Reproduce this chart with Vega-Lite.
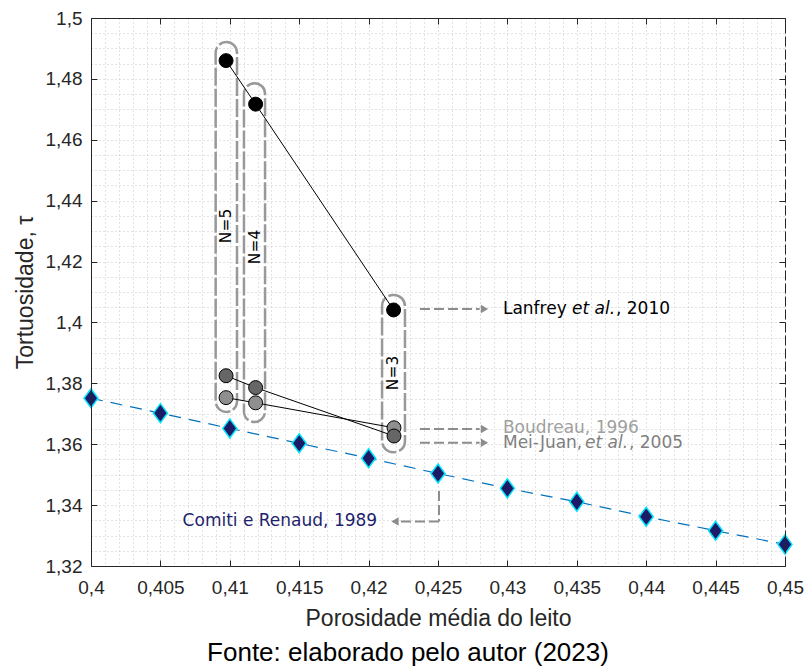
{
  "$schema": "https://vega.github.io/schema/vega-lite/v6.json",
  "width": 694,
  "height": 548,
  "autosize": {"type": "none"},
  "padding": {"left": 91, "top": 18, "right": 22, "bottom": 102},
  "background": "white",
  "config": {
    "view": {"stroke": null},
    "axis": {
      "labelFont": "Liberation Sans",
      "titleFont": "Liberation Sans",
      "labelColor": "#262626",
      "titleColor": "#262626",
      "domainColor": "#262626",
      "tickColor": "#262626",
      "titleFontWeight": "normal",
      "labelFlush": false
    }
  },
  "title": {
    "text": "Fonte: elaborado pelo autor (2023)",
    "orient": "bottom",
    "anchor": "middle",
    "font": "Liberation Sans",
    "fontSize": 26,
    "fontWeight": "normal",
    "color": "#000000",
    "offset": 10,
    "dx": -30
  },
  "datasets": {
    "comiti": [
      {"p": 0.400, "t": 1.3751},
      {"p": 0.405, "t": 1.3702},
      {"p": 0.410, "t": 1.3652},
      {"p": 0.415, "t": 1.3603},
      {"p": 0.420, "t": 1.3554},
      {"p": 0.425, "t": 1.3504},
      {"p": 0.430, "t": 1.3455},
      {"p": 0.435, "t": 1.3411},
      {"p": 0.440, "t": 1.3362},
      {"p": 0.445, "t": 1.3316},
      {"p": 0.450, "t": 1.3271}
    ],
    "studies": [
      {"study": "Lanfrey", "p": 0.40973, "t": 1.4860},
      {"study": "Lanfrey", "p": 0.41186, "t": 1.4717},
      {"study": "Lanfrey", "p": 0.42180, "t": 1.4041},
      {"study": "Boudreau", "p": 0.40973, "t": 1.3753},
      {"study": "Boudreau", "p": 0.41186, "t": 1.3736},
      {"study": "Boudreau", "p": 0.42183, "t": 1.3654},
      {"study": "Mei-Juan", "p": 0.40973, "t": 1.3825},
      {"study": "Mei-Juan", "p": 0.41186, "t": 1.3786},
      {"study": "Mei-Juan", "p": 0.42183, "t": 1.3627}
    ],
    "groups": [
      {"label": "N=5", "p1": 0.40898, "p2": 0.41052, "t1": 1.4921, "t2": 1.3706, "pm": 0.40973, "tm": 1.4317},
      {"label": "N=4", "p1": 0.41102, "p2": 0.41254, "t1": 1.4786, "t2": 1.3673, "pm": 0.41182, "tm": 1.4248},
      {"label": "N=3", "p1": 0.42097, "p2": 0.42262, "t1": 1.4090, "t2": 1.3574, "pm": 0.42176, "tm": 1.3834}
    ],
    "arrows": [
      {"id": "lanfrey", "p1": 0.4237, "p2": 0.4280, "t1": 1.4044, "t2": 1.4044},
      {"id": "boudreau", "p1": 0.4237, "p2": 0.4280, "t1": 1.3650, "t2": 1.3650},
      {"id": "meijuan", "p1": 0.4237, "p2": 0.4280, "t1": 1.3605, "t2": 1.3605},
      {"id": "comiti_v", "p1": 0.42507, "p2": 0.42507, "t1": 1.3446, "t2": 1.3346},
      {"id": "comiti_h", "p1": 0.42507, "p2": 0.4222, "t1": 1.3346, "t2": 1.3346}
    ],
    "heads": [
      {"id": "lanfrey", "p": 0.42835, "t": 1.4044, "dir": "right"},
      {"id": "boudreau", "p": 0.42835, "t": 1.3650, "dir": "right"},
      {"id": "meijuan", "p": 0.42835, "t": 1.3605, "dir": "right"},
      {"id": "comiti", "p": 0.4219, "t": 1.3346, "dir": "left"}
    ],
    "labels": [
      {"key": "Lanfrey", "p": 0.42968, "t": 1.4044, "a": "Lanfrey ", "b": "et al.", "c": ", 2010"},
      {"key": "Boudreau", "p": 0.42968, "t": 1.3654, "a": "Boudreau, 1996"},
      {"key": "Mei-Juan", "p": 0.42968, "t": 1.3604, "a": "Mei-Juan, ", "b": "et al.", "c": ", 2005"},
      {"key": "Comiti", "p": 0.40660, "t": 1.3349, "a": "Comiti e Renaud, 1989"}
    ]
  },
  "resolve": {"axis": {"x": "independent", "y": "independent"}},
  "layer": [
    {
      "data": {"name": "comiti"},
      "mark": {"type": "line", "color": "#0072BD", "strokeWidth": 1.2, "strokeDash": [12, 8]},
      "encoding": {
        "x": {
          "field": "p", "type": "quantitative",
          "scale": {"domain": [0.4, 0.45], "nice": false, "zero": false},
          "axis": {
            "orient": "bottom",
            "values": [0.4,0.401,0.402,0.403,0.404,0.405,0.406,0.407,0.408,0.409,0.41,0.411,0.412,0.413,0.414,0.415,0.416,0.417,0.418,0.419,0.42,0.421,0.422,0.423,0.424,0.425,0.426,0.427,0.428,0.429,0.43,0.431,0.432,0.433,0.434,0.435,0.436,0.437,0.438,0.439,0.44,0.441,0.442,0.443,0.444,0.445,0.446,0.447,0.448,0.449,0.45],
            "grid": true, "gridColor": "#c4c4c4", "gridDash": [1, 3], "gridWidth": 1,
            "ticks": false, "labels": false, "domain": false, "title": null, "zindex": 0
          }
        },
        "y": {
          "field": "t", "type": "quantitative",
          "scale": {"domain": [1.32, 1.5], "nice": false, "zero": false},
          "axis": {
            "orient": "left",
            "values": [1.32,1.325,1.33,1.335,1.34,1.345,1.35,1.355,1.36,1.365,1.37,1.375,1.38,1.385,1.39,1.395,1.4,1.405,1.41,1.415,1.42,1.425,1.43,1.435,1.44,1.445,1.45,1.455,1.46,1.465,1.47,1.475,1.48,1.485,1.49,1.495,1.5],
            "grid": true, "gridColor": "#c4c4c4", "gridDash": [1, 3], "gridWidth": 1,
            "ticks": false, "labels": false, "domain": false, "title": null, "zindex": 0
          }
        }
      }
    },
    {
      "data": {"name": "groups"},
      "mark": {"type": "rect", "filled": false, "stroke": "#999999", "strokeWidth": 2.5, "strokeDash": [18, 3], "cornerRadius": 11},
      "encoding": {
        "x": {"field": "p1", "type": "quantitative", "axis": null},
        "x2": {"field": "p2"},
        "y": {"field": "t1", "type": "quantitative", "axis": null},
        "y2": {"field": "t2"}
      }
    },
    {
      "data": {"name": "groups"},
      "mark": {"type": "text", "angle": 270, "font": "DejaVu Sans", "fontSize": 15.5, "color": "#000000", "align": "center", "baseline": "middle"},
      "encoding": {
        "x": {"field": "pm", "type": "quantitative", "axis": null},
        "y": {"field": "tm", "type": "quantitative", "axis": null},
        "text": {"field": "label"}
      }
    },
    {
      "data": {"name": "studies"},
      "mark": {"type": "line", "color": "#000000", "strokeWidth": 1},
      "encoding": {
        "x": {
          "field": "p", "type": "quantitative",
          "axis": {"orient": "top", "values": [0.4,0.405,0.41,0.415,0.42,0.425,0.43,0.435,0.44,0.445,0.45], "tickSize": -6, "labels": false, "title": null, "grid": false, "domain": true, "zindex": 1}
        },
        "y": {
          "field": "t", "type": "quantitative",
          "axis": {"orient": "right", "values": [1.32,1.34,1.36,1.38,1.4,1.42,1.44,1.46,1.48,1.5], "tickSize": -6, "labels": false, "title": null, "grid": false, "domain": true, "domainDash": [10, 3], "zindex": 1}
        },
        "detail": {"field": "study"},
        "order": {"field": "p", "type": "quantitative"}
      }
    },
    {
      "data": {"name": "studies"},
      "mark": {"type": "point", "shape": "circle", "filled": true, "size": 195, "stroke": "#000000", "strokeWidth": 1, "opacity": 1},
      "encoding": {
        "x": {"field": "p", "type": "quantitative", "axis": null},
        "y": {"field": "t", "type": "quantitative", "axis": null},
        "fill": {"field": "study", "type": "nominal", "scale": {"domain": ["Lanfrey", "Boudreau", "Mei-Juan"], "range": ["#000000", "#8f8f8f", "#666666"]}, "legend": null}
      }
    },
    {
      "data": {"name": "comiti"},
      "mark": {"type": "point", "shape": "M0,-1L0.74,0L0,1L-0.74,0Z", "filled": true, "size": 361, "fill": "#1b1b66", "stroke": "#00e5ff", "strokeWidth": 1.5, "opacity": 1},
      "encoding": {
        "x": {
          "field": "p", "type": "quantitative",
          "axis": {
            "orient": "bottom",
            "values": [0.4,0.405,0.41,0.415,0.42,0.425,0.43,0.435,0.44,0.445,0.45],
            "grid": false, "tickSize": -6, "labelPadding": 18, "labelFontSize": 19, "labelFlush": false,
            "labelExpr": "replace(format(datum.value, '~r'), '.', ',')",
            "title": "Porosidade média do leito", "titleFontSize": 23, "titlePadding": 10, "zindex": 1
          }
        },
        "y": {
          "field": "t", "type": "quantitative",
          "axis": {
            "orient": "left",
            "values": [1.32,1.34,1.36,1.38,1.4,1.42,1.44,1.46,1.48,1.5],
            "grid": false, "tickSize": -6, "labelPadding": 15, "labelFontSize": 19, "labelFlush": false,
            "labelExpr": "replace(format(datum.value, '~r'), '.', ',')",
            "title": "Tortuosidade, τ", "titleFontSize": 23, "titlePadding": 8, "zindex": 1
          }
        }
      }
    },
    {
      "data": {"name": "arrows"},
      "mark": {"type": "rule", "color": "#8c8c8c", "strokeWidth": 2, "strokeDash": [10, 4]},
      "encoding": {
        "x": {"field": "p1", "type": "quantitative", "axis": null},
        "x2": {"field": "p2"},
        "y": {"field": "t1", "type": "quantitative", "axis": null},
        "y2": {"field": "t2"}
      }
    },
    {
      "data": {"name": "heads"},
      "mark": {"type": "point", "filled": true, "size": 70, "color": "#8c8c8c", "opacity": 1},
      "encoding": {
        "x": {"field": "p", "type": "quantitative", "axis": null},
        "y": {"field": "t", "type": "quantitative", "axis": null},
        "shape": {"field": "dir", "type": "nominal", "scale": {"domain": ["right", "left"], "range": ["triangle-right", "triangle-left"]}, "legend": null}
      }
    },
    {
      "data": {"name": "labels"},
      "mark": {"type": "text", "font": "DejaVu Sans", "fontSize": 17, "align": "left", "baseline": "middle"},
      "encoding": {
        "x": {"field": "p", "type": "quantitative", "axis": null},
        "y": {"field": "t", "type": "quantitative", "axis": null},
        "text": {"field": "a"},
        "color": {"field": "key", "type": "nominal", "scale": {"domain": ["Lanfrey", "Boudreau", "Mei-Juan", "Comiti"], "range": ["#000000", "#a0a0a0", "#7f7f7f", "#1f1f6e"]}, "legend": null}
      }
    },
    {
      "data": {"name": "labels"},
      "transform": [{"filter": "datum.key === 'Lanfrey'"}],
      "mark": {"type": "text", "font": "DejaVu Sans", "fontSize": 17, "fontStyle": "italic", "align": "left", "baseline": "middle", "dx": 69, "color": "#000000"},
      "encoding": {
        "x": {"field": "p", "type": "quantitative", "axis": null},
        "y": {"field": "t", "type": "quantitative", "axis": null},
        "text": {"field": "b"}
      }
    },
    {
      "data": {"name": "labels"},
      "transform": [{"filter": "datum.key === 'Lanfrey'"}],
      "mark": {"type": "text", "font": "DejaVu Sans", "fontSize": 17, "align": "left", "baseline": "middle", "dx": 113, "color": "#000000"},
      "encoding": {
        "x": {"field": "p", "type": "quantitative", "axis": null},
        "y": {"field": "t", "type": "quantitative", "axis": null},
        "text": {"field": "c"}
      }
    },
    {
      "data": {"name": "labels"},
      "transform": [{"filter": "datum.key === 'Mei-Juan'"}],
      "mark": {"type": "text", "font": "DejaVu Sans", "fontSize": 17, "fontStyle": "italic", "align": "left", "baseline": "middle", "dx": 82, "color": "#7f7f7f"},
      "encoding": {
        "x": {"field": "p", "type": "quantitative", "axis": null},
        "y": {"field": "t", "type": "quantitative", "axis": null},
        "text": {"field": "b"}
      }
    },
    {
      "data": {"name": "labels"},
      "transform": [{"filter": "datum.key === 'Mei-Juan'"}],
      "mark": {"type": "text", "font": "DejaVu Sans", "fontSize": 17, "align": "left", "baseline": "middle", "dx": 126, "color": "#7f7f7f"},
      "encoding": {
        "x": {"field": "p", "type": "quantitative", "axis": null},
        "y": {"field": "t", "type": "quantitative", "axis": null},
        "text": {"field": "c"}
      }
    }
  ]
}
